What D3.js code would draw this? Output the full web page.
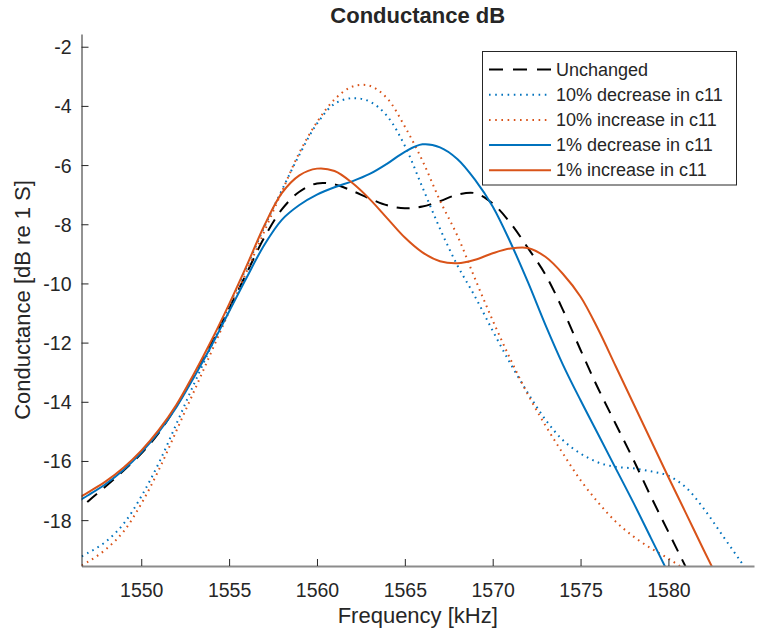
<!DOCTYPE html>
<html>
<head>
<meta charset="utf-8">
<script src="https://cdn.jsdelivr.net/npm/d3@7"></script>
<style>
  body { margin: 0; background: #fff; }
  svg text { font-family: "Liberation Sans", Arial, Helvetica, sans-serif; fill: #262626; }
</style>
</head>
<body>
<div id="chart"></div>
<script>
var width = 768,
    height = 635;

// frequency grid [kHz]
var freq = d3.range(1546, 1586);

var unchanged = [-17.9, -17.35, -16.85, -16.32, -15.75, -15.05, -14.15, -13.12, -12.0, -10.85,
  -9.65, -8.45, -7.5, -6.9, -6.62, -6.65, -6.87, -7.13, -7.36, -7.46,
  -7.4, -7.22, -7.0, -6.95, -7.3, -7.95, -8.8, -9.7, -10.9, -12.25,
  -13.55, -14.75, -15.95, -17.2, -18.4, -19.6, -20.8, -22.0, -23.2, -24.4];

var dec10 = [-19.4, -19.1, -18.72, -18.12, -17.2, -16.07, -14.75, -13.4, -12.1, -10.75,
  -9.45, -8.1, -6.85, -5.65, -4.6, -3.93, -3.74, -3.85, -4.35, -5.35,
  -6.75, -8.15, -9.4, -10.45, -11.6, -12.7, -13.7, -14.6, -15.3, -15.75,
  -16.05, -16.2, -16.25, -16.35, -16.5, -16.9, -17.6, -18.45, -19.3, -20.15];

var inc10 = [-19.72, -19.4, -18.98, -18.38, -17.45, -16.3, -14.98, -13.65, -12.3, -10.95,
  -9.6, -8.25, -6.9, -5.58, -4.55, -3.78, -3.35, -3.32, -3.75, -4.7,
  -5.85, -7.2, -8.4, -9.85, -11.25, -12.55, -13.75, -14.8, -15.75, -16.65,
  -17.4, -18.05, -18.55, -18.95, -19.3, -19.7, -20.2, -20.8, -21.4, -22.0];

var dec1 = [-17.5, -17.15, -16.77, -16.3, -15.72, -15.02, -14.18, -13.17, -12.1, -10.95,
  -9.8, -8.7, -7.85, -7.35, -7.0, -6.75, -6.55, -6.3, -5.95, -5.55,
  -5.3, -5.4, -5.8, -6.5, -7.4, -8.6, -9.95, -11.4, -12.75, -13.95,
  -15.1, -16.25, -17.4, -18.6, -19.8, -21.0, -22.2, -23.4, -24.6, -25.8];

var inc1 = [-17.4, -17.05, -16.68, -16.22, -15.65, -14.95, -14.1, -13.05, -11.92, -10.7,
  -9.4, -8.05, -6.95, -6.35, -6.12, -6.2, -6.6, -7.15, -7.8, -8.45,
  -8.95, -9.25, -9.32, -9.2, -8.98, -8.82, -8.8, -9.1, -9.68, -10.45,
  -11.55, -12.8, -14.05, -15.3, -16.55, -17.77, -19.0, -20.2, -21.4, -22.6];

var seriesNames = ["Unchanged", "10% decrease in c11", "10% increase in c11",
  "1% decrease in c11", "1% increase in c11"];

var xTicks = [1550, 1555, 1560, 1565, 1570, 1575, 1580];
var yTicks = [-18, -16, -14, -12, -10, -8, -6, -4, -2];

var blue = "#0072BD",
    orange = "#D95319";

var series = [
  { name: seriesNames[0], values: unchanged, color: "#000000", dash: "13,9", legendDash: "14,10" },
  { name: seriesNames[1], values: dec10, color: blue, dash: "1.6,4.4", legendDash: "1.6,4.6" },
  { name: seriesNames[2], values: inc10, color: orange, dash: "1.6,4.4", legendDash: "1.6,4.6" },
  { name: seriesNames[3], values: dec1, color: blue, dash: null, legendDash: null },
  { name: seriesNames[4], values: inc1, color: orange, dash: null, legendDash: null }
];

var plotLeft = 81.5, plotRight = 754, plotTop = 34, plotBottom = 566;

var x = d3.scaleLinear()
    .domain([1546.6, 1584.87])
    .range([plotLeft, plotRight]);

var y = d3.scaleLinear()
    .domain([-19.55, -1.57])
    .range([plotBottom, plotTop]);

var svg = d3.select("#chart").append("svg")
    .attr("width", width)
    .attr("height", height);

svg.append("defs").append("clipPath")
    .attr("id", "plotclip")
  .append("rect")
    .attr("x", plotLeft)
    .attr("y", plotTop)
    .attr("width", plotRight - plotLeft)
    .attr("height", plotBottom - plotTop);

var line = d3.line()
    .x(function(d, i) { return x(freq[i]); })
    .y(function(d) { return y(d); })
    .curve(d3.curveCatmullRom.alpha(0.5));

svg.append("g")
    .attr("clip-path", "url(#plotclip)")
  .selectAll(".curve")
    .data(series)
    .enter().append("path")
    .attr("class", "curve")
    .attr("d", function(d) { return line(d.values); })
    .attr("fill", "none")
    .attr("stroke", function(d) { return d.color; })
    .attr("stroke-width", 2)
    .attr("stroke-dasharray", function(d) { return d.dash; });

// axes (plain hyphen minus, like the original)
var plainFormat = function(d) { return String(d); };

var xAxis = svg.append("g")
    .attr("transform", "translate(0," + plotBottom + ")")
    .call(d3.axisBottom(x)
      .tickValues(xTicks)
      .tickFormat(plainFormat)
      .tickSizeInner(-7)
      .tickSizeOuter(0)
      .tickPadding(17));

var yAxis = svg.append("g")
    .attr("transform", "translate(" + plotLeft + ",0)")
    .call(d3.axisLeft(y)
      .tickValues(yTicks)
      .tickFormat(plainFormat)
      .tickSizeInner(-7)
      .tickSizeOuter(0)
      .tickPadding(10));

svg.selectAll(".tick text")
    .attr("font-size", "19.5px")
    .attr("fill", "#262626");
yAxis.selectAll(".tick text").attr("dy", "0.36em");
svg.selectAll(".domain, .tick line").attr("stroke", "#262626");
xAxis.select(".domain").attr("stroke", "#8c8c8c").attr("stroke-width", 2);

// title and labels
svg.append("text")
    .attr("x", (plotLeft + plotRight) / 2)
    .attr("y", 23)
    .attr("text-anchor", "middle")
    .attr("font-size", "22px")
    .attr("font-weight", "bold")
    .text("Conductance dB");

svg.append("text")
    .attr("x", (plotLeft + plotRight) / 2)
    .attr("y", 623)
    .attr("text-anchor", "middle")
    .attr("font-size", "22px")
    .text("Frequency [kHz]");

svg.append("text")
    .attr("transform", "translate(30," + ((plotTop + plotBottom) / 2) + ") rotate(-90)")
    .attr("text-anchor", "middle")
    .attr("font-size", "22px")
    .text("Conductance [dB re 1 S]");

// legend
var legend = svg.append("g");

legend.append("rect")
    .attr("x", 482.5)
    .attr("y", 51.5)
    .attr("width", 254)
    .attr("height", 133.5)
    .attr("fill", "#fff")
    .attr("stroke", "#262626")
    .attr("stroke-width", 1);

var rows = legend.selectAll(".row")
    .data(series)
    .enter().append("g")
    .attr("class", "row")
    .attr("transform", function(d, i) { return "translate(0," + (69.5 + i * 25.2) + ")"; });

rows.append("line")
    .attr("x1", 489)
    .attr("x2", 551)
    .attr("stroke", function(d) { return d.color; })
    .attr("stroke-width", 2)
    .attr("stroke-dasharray", function(d) { return d.legendDash; });

rows.append("text")
    .attr("x", 556)
    .attr("dy", "0.34em")
    .attr("font-size", "18px")
    .text(function(d) { return d.name; });
</script>
</body>
</html>
